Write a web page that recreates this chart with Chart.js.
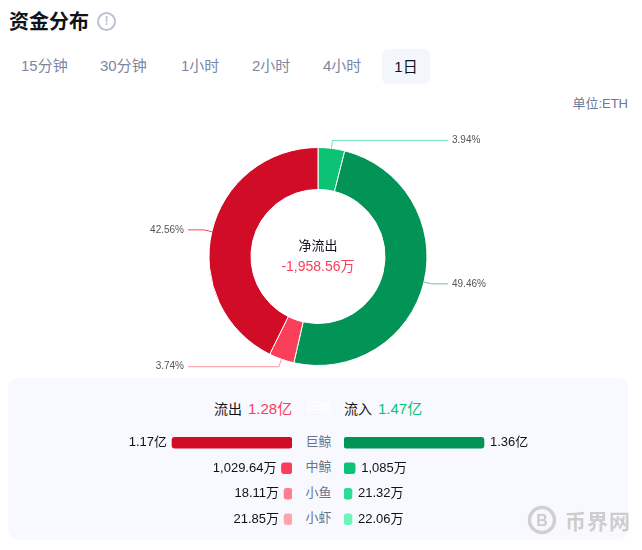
<!DOCTYPE html>
<html>
<head>
<meta charset="utf-8">
<title>资金分布</title>
<script src="https://cdn.jsdelivr.net/npm/chart.js@4"></script>
<style>
  html, body { margin: 0; padding: 0; background: #fff; }
  body { width: 642px; height: 550px; position: relative; overflow: hidden;
         font-family: "Liberation Sans", "Noto Sans CJK SC", sans-serif; }
  .abs { position: absolute; white-space: nowrap; line-height: 20px; }
  canvas { position: absolute; }
  #title { left: 9px; top: 10px; font-size: 20px; font-weight: bold; color: #10121a; line-height: 24px; }
  #info { left: 97px; top: 12px; width: 15px; height: 15px; border: 2px solid #bcc2d2; border-radius: 50%;
          color: #bcc2d2; font-size: 12px; font-weight: bold; text-align: center; line-height: 15px; }
  .tab { top: 56px; font-size: 15px; color: #7c86a0; }
  #activeTab { left: 382px; top: 49px; width: 48px; height: 35px; line-height: 35px; background: #f3f6fc;
               border-radius: 6px; text-align: center; font-size: 15px; color: #10121a; }
  #unit { right: 14px; top: 94px; font-size: 13px; color: #6b7a99; }
  #panel { left: 8px; top: 378px; width: 620px; height: 162px; background: #f8f9ff; border-radius: 10px; }
  .cat { left: 305px; width: 27px; font-size: 13px; color: #6b7488; text-align: center; }
  #netLabel { left: 218px; width: 200px; top: 236px; text-align: center; font-size: 13px; color: #10121a; }
  #netValue { left: 218px; width: 200px; top: 256px; text-align: center; font-size: 14px; color: #f93f5a; }
  #mark { left: 527px; top: 505px; }
  #markText { left: 565px; top: 509px; font-size: 21px; font-weight: bold; color: #cdcdcd; line-height: 26px; letter-spacing: 1px; }
</style>
</head>
<body>
<div class="abs" id="title">资金分布</div>
<div class="abs" id="info">!</div>
<div id="tabs"></div>
<div class="abs" id="unit">单位:ETH</div>
<div class="abs" id="panel"></div>

<canvas id="ringChart" style="left:0;top:130px"></canvas>
<div class="abs" id="netLabel">净流出</div>
<div class="abs" id="netValue">-1,958.56万</div>

<div class="abs" style="left:214px;top:399px;font-size:14px;color:#10121a">流出</div>
<div class="abs" style="left:248px;top:399px;font-size:15px;color:#f93f5a">1.28亿</div>
<div class="abs" style="left:305px;top:398px;font-size:13px;color:#fff">巨鲸</div>
<div class="abs" style="left:344px;top:399px;font-size:14px;color:#10121a">流入</div>
<div class="abs" style="left:378px;top:399px;font-size:15px;color:#0cc275">1.47亿</div>

<canvas id="outChart" style="left:0;top:430px"></canvas>
<canvas id="inChart" style="left:344px;top:430px"></canvas>
<div id="cats"></div>

<svg class="abs" id="mark" width="30" height="30" viewBox="0 0 30 30">
  <circle cx="15" cy="15" r="12.5" fill="none" stroke="#d0d0d0" stroke-width="3.5"/>
  <text x="15" y="21" text-anchor="middle" font-size="16" font-weight="bold" fill="#cdcdcd" font-family="Liberation Sans">B</text>
</svg>
<div class="abs" id="markText">币界网</div>

<script>
"use strict";
var tabLabels = ['15分钟', '30分钟', '1小时', '2小时', '4小时', '1日'];
var tabLefts = [21, 100, 181, 252, 323];

// doughnut, clockwise from the top
var ringLabels = ['3.94%', '49.46%', '3.74%', '42.56%'];
var ringValues = [3.94, 49.46, 3.74, 42.56];
var ringColors = ['#0cc275', '#029457', '#f93f5a', '#d00c26'];
var ringLineColors = ['#6fe0b0', '#6fc49f', '#ff93a2', '#ee4a62'];

// bars, values in 万
var categories = ['巨鲸', '中鲸', '小鱼', '小虾'];
var outValues = [11700, 1029.64, 18.11, 21.85];
var inValues = [13600, 1085, 21.32, 22.06];
var outText = ['1.17亿', '1,029.64万', '18.11万', '21.85万'];
var inText = ['1.36亿', '1,085万', '21.32万', '22.06万'];
var outColors = ['#d00c26', '#f93f5a', '#ff7e8f', '#ffa5af'];
var inColors = ['#029457', '#0cc275', '#2cdb94', '#6ef5be'];

tabLabels.forEach(function (t, i) {
  var d = document.createElement('div');
  d.className = 'abs';
  d.textContent = t;
  if (i === tabLabels.length - 1) {
    d.id = 'activeTab';
  } else {
    d.classList.add('tab');
    d.style.left = tabLefts[i] + 'px';
  }
  document.getElementById('tabs').appendChild(d);
});

categories.forEach(function (c, i) {
  var d = document.createElement('div');
  d.className = 'abs cat';
  d.textContent = c;
  d.style.top = (432 + i * 25.4) + 'px';
  document.getElementById('cats').appendChild(d);
});

function sizeCanvas(id, w, h) {
  var c = document.getElementById(id);
  c.width = w;
  c.height = h;
  c.style.width = w + 'px';
  c.style.height = h + 'px';
  return c.getContext('2d');
}

// leader lines: out of the slice, a short elbow, then flat to the label
var leaderLines = {
  id: 'leaderLines',
  afterDraw: function (chart) {
    var ctx = chart.ctx;
    chart.getDatasetMeta(0).data.forEach(function (arc, i) {
      var mid = (arc.startAngle + arc.endAngle) / 2;
      var sx = arc.x + Math.cos(mid) * arc.outerRadius;
      var sy = arc.y + Math.sin(mid) * arc.outerRadius;
      var ex = arc.x + Math.cos(mid) * (arc.outerRadius + 8);
      var ey = arc.y + Math.sin(mid) * (arc.outerRadius + 8);
      var right = Math.cos(mid) > 0;
      var fx = arc.x + (right ? 130 : -130);
      ctx.save();
      ctx.strokeStyle = ringLineColors[i];
      ctx.lineWidth = 1;
      ctx.beginPath();
      ctx.moveTo(sx, sy);
      ctx.lineTo(ex, ey);
      ctx.lineTo(fx, ey);
      ctx.stroke();
      ctx.fillStyle = '#555';
      ctx.font = '10px "Liberation Sans", sans-serif';
      ctx.textBaseline = 'middle';
      ctx.textAlign = right ? 'left' : 'right';
      ctx.fillText(ringLabels[i], fx + (right ? 4 : -4), ey);
      ctx.restore();
    });
  }
};

new Chart(sizeCanvas('ringChart', 636, 253), {
  type: 'doughnut',
  data: {
    labels: ringLabels,
    datasets: [{ data: ringValues, backgroundColor: ringColors, borderColor: '#fff', borderWidth: 1 }]
  },
  options: {
    responsive: false,
    animation: false,
    radius: 109,
    cutout: '61.5%',
    plugins: { legend: { display: false }, tooltip: { enabled: false } }
  },
  plugins: [leaderLines]
});

// value text beside each bar
function barText(texts) {
  return {
    id: 'barText',
    afterDraw: function (chart) {
      var ctx = chart.ctx;
      var reversed = chart.scales.x.options.reverse;
      chart.getDatasetMeta(0).data.forEach(function (bar, i) {
        ctx.save();
        ctx.fillStyle = '#10121a';
        ctx.font = '13px "Liberation Sans", "Noto Sans CJK SC", sans-serif';
        ctx.textBaseline = 'middle';
        ctx.textAlign = reversed ? 'right' : 'left';
        ctx.fillText(texts[i], bar.x + (reversed ? -5 : 6), bar.y);
        ctx.restore();
      });
    }
  };
}

function barChart(id, width, values, colors, texts, axisMax, reversed) {
  new Chart(sizeCanvas(id, width, 102), {
    type: 'bar',
    data: {
      labels: categories,
      datasets: [{
        data: values,
        backgroundColor: colors,
        barThickness: 11,
        minBarLength: 8,
        borderRadius: 3,
        borderSkipped: false
      }]
    },
    options: {
      indexAxis: 'y',
      responsive: false,
      animation: false,
      layout: { padding: 0 },
      scales: {
        x: { display: false, min: 0, max: axisMax, reverse: reversed },
        y: { display: false }
      },
      plugins: { legend: { display: false }, tooltip: { enabled: false } }
    },
    plugins: [barText(texts)]
  });
}

barChart('outChart', 292, outValues, outColors, outText, 28470, true);
barChart('inChart', 298, inValues, inColors, inText, 28950, false);
</script>
</body>
</html>
